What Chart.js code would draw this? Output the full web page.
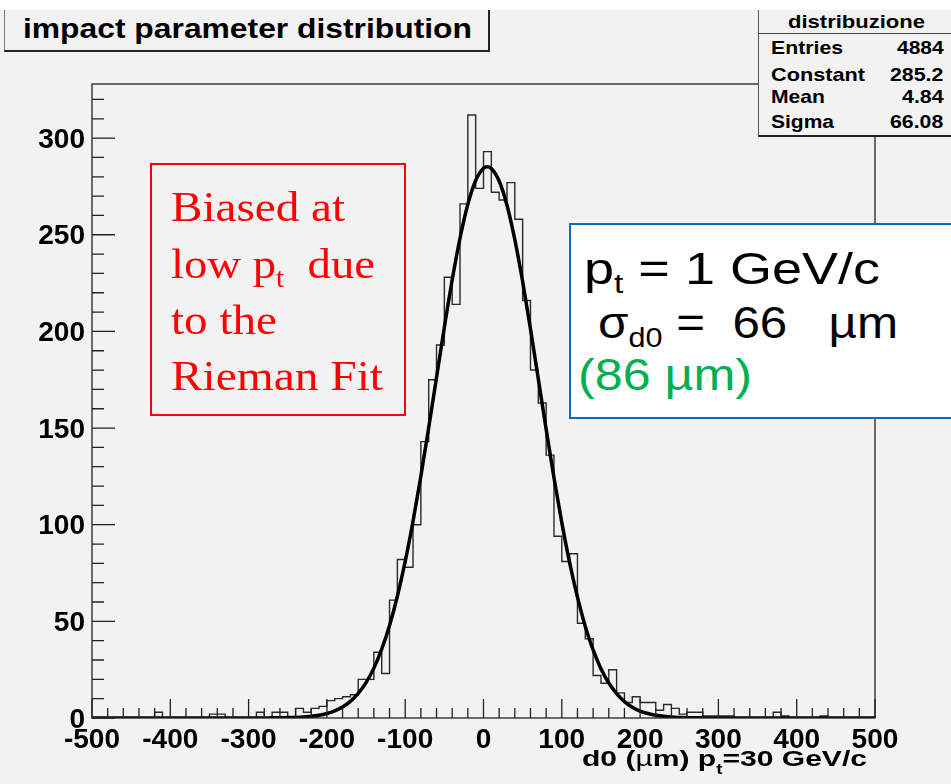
<!DOCTYPE html>
<html>
<head>
<meta charset="utf-8">
<script src="https://cdn.jsdelivr.net/npm/chart.js@4.4.1/dist/chart.umd.min.js"></script>
<style>
  html, body { margin: 0; padding: 0; background: #fff; }
  #wrap { position: relative; width: 951px; height: 784px; overflow: hidden; }
  canvas { position: absolute; left: 0; top: 0; }
  .t { position: absolute; left: 0; top: 0; white-space: pre; line-height: 1;
       font-family: "Liberation Sans", Arial, sans-serif; transform-origin: 0 0; color: #000; }
  .serif { font-family: "Liberation Serif", "Times New Roman", serif; }
  .b { font-weight: bold; }
  .sub { font-size: 0.62em; vertical-align: -0.32em; }
  .box { position: absolute; box-sizing: border-box; }
</style>
</head>
<body>
<div id="wrap">
  <canvas id="c" width="951" height="784" style="width:951px;height:784px"></canvas>

  <!-- title pave -->
  <div class="box" style="left:4px;top:10px;width:486px;height:42px;border-left:1px solid #777;border-right:2px solid #222;border-bottom:2px solid #222;background:#f2f2f2"></div>
  <div class="t b" style="font-size:27.5px" data-x="23" data-y="38" data-w="449">impact parameter distribution</div>

  <!-- stats box -->
  <div class="box" style="left:758px;top:10px;width:200px;height:127px;border-left:1px solid #555;border-bottom:2px solid #222;background:#f2f2f2"></div>
  <div class="box" style="left:758px;top:33px;width:200px;height:1px;background:#444"></div>
  <div class="t b" style="font-size:18.5px" data-x="856.7" data-a="c" data-y="28.3" data-w="137">distribuzione</div>
  <div class="t b" style="font-size:18.5px" data-x="770.7" data-y="55" data-w="72">Entries</div>
  <div class="t b" style="font-size:18.5px" data-x="770.7" data-y="81.7" data-w="94">Constant</div>
  <div class="t b" style="font-size:18.5px" data-x="770.7" data-y="104" data-w="54">Mean</div>
  <div class="t b" style="font-size:18.5px" data-x="770.7" data-y="128.3" data-w="63">Sigma</div>
  <div class="t b" style="font-size:18.5px" data-x="943.3" data-a="r" data-y="55" data-w="46.7">4884</div>
  <div class="t b" style="font-size:18.5px" data-x="943.3" data-a="r" data-y="81.7" data-w="53.3">285.2</div>
  <div class="t b" style="font-size:18.5px" data-x="943.3" data-a="r" data-y="104" data-w="41.7">4.84</div>
  <div class="t b" style="font-size:18.5px" data-x="943.3" data-a="r" data-y="128.3" data-w="53.3">66.08</div>

  <!-- red annotation -->
  <div class="box" style="left:150px;top:163px;width:256px;height:253px;border:2px solid #ff0000"></div>
  <div class="t serif" style="font-size:43px;color:#ff0000" data-x="171" data-y="221" data-w="174">Biased at</div>
  <div class="t serif" style="font-size:43px;color:#ff0000" data-x="171" data-y="278" data-w="204">low p<span class="sub">t</span>  due</div>
  <div class="t serif" style="font-size:43px;color:#ff0000" data-x="171" data-y="334" data-w="106">to the</div>
  <div class="t serif" style="font-size:43px;color:#ff0000" data-x="171" data-y="390" data-w="212">Rieman Fit</div>

  <!-- blue annotation -->
  <div class="box" style="left:569px;top:223px;width:400px;height:196px;border:2px solid #0070c0;background:#fff"></div>
  <div class="t" style="font-size:44px" data-x="584" data-y="284" data-w="296">p<span class="sub">t</span> = 1 GeV/c</div>
  <div class="t" style="font-size:44px" data-x="598" data-y="338" data-w="300">σ<span class="sub">d0</span> =  66   µm</div>
  <div class="t" style="font-size:44px;color:#00b050" data-x="578" data-y="390" data-w="174">(86 µm)</div>

  <!-- x axis title -->
  <div class="t b" style="font-size:22.5px" data-x="582" data-y="767" data-w="285">d0 (<span style="font-weight:normal">µ</span>m) p<span class="sub" style="vertical-align:-0.55em">t</span>=30 GeV/c</div>
</div>

<script>
// histogram: 100 bins of 10 µm from -500 to 500
const binLow = -500;
const binWidth = 10;
const counts = [
  0, 0, 0, 0, 0, 0, 0, 0, 3, 0,
  0, 0, 0, 0, 0, 2, 2, 0, 0, 0,
  0, 3, 0, 3, 3, 0, 5, 3, 5, 6,
  9, 10, 11, 12, 20, 20, 34, 23, 61, 82,
  78, 100, 143, 175, 193, 228, 214, 266, 312, 274,
  293, 272, 268, 277, 258, 216, 180, 163, 136, 94,
  81, 85, 49, 41, 22, 18, 25, 13, 8, 11,
  8, 8, 4, 7, 5, 2, 3, 3, 1, 1,
  1, 1, 0, 0, 0, 0, 0, 3, 1, 0,
  0, 0, 0, 1, 0, 0, 0, 0, 0, 0
];

// gaussian fit curve
const fitX = [-500, -400, -300, -290, -280, -270, -260, -250, -240, -230, -220, -210,
  -200, -190, -180, -170, -160, -150, -140, -130, -120, -110,
  -100, -90, -80, -70, -60, -50, -40, -30, -20, -10, 0, 5,
  10, 20, 30, 40, 50, 60, 70, 80, 90, 100,
  110, 120, 130, 140, 150, 160, 170, 180, 190, 200,
  210, 220, 230, 240, 250, 260, 270, 280, 290, 300, 400, 500];
const fitY = [0, 0, 0, 0, 0, 0.1, 0.1, 0.2, 0.3, 0.5, 0.9, 1.4,
  2.3, 3.7, 5.7, 8.6, 12.7, 18.3, 25.8, 35.6, 47.9, 63.0,
  81.0, 101.8, 125.1, 150.2, 176.2, 202.1, 226.6, 248.2, 265.8, 278.1, 284.4, 285.2,
  284.3, 277.8, 265.3, 247.5, 225.8, 201.3, 175.4, 149.4, 124.3, 101.1,
  80.4, 62.5, 47.4, 35.2, 25.5, 18.1, 12.6, 8.5, 5.6, 3.6,
  2.3, 1.4, 0.9, 0.5, 0.3, 0.2, 0.1, 0.1, 0, 0, 0, 0];

const xTicks = [-500, -400, -300, -200, -100, 0, 100, 200, 300, 400, 500];
const yTicks = [0, 50, 100, 150, 200, 250, 300];

const histPoints = counts.map((c, i) => ({ x: binLow + i * binWidth, y: c }));
histPoints.push({ x: binLow + counts.length * binWidth, y: counts[counts.length - 1] });
const fitPoints = fitX.map((x, i) => ({ x: x, y: fitY[i] }));

const rootFrame = {
  id: 'rootFrame',
  beforeDraw(chart) {
    const ctx = chart.ctx;
    ctx.save();
    ctx.fillStyle = '#fff';
    ctx.fillRect(0, 0, chart.width, chart.height);
    ctx.fillStyle = '#f2f2f2';
    ctx.fillRect(0, 10, chart.width, chart.height - 10);
    ctx.restore();
  },
  afterDatasetsDraw(chart) {
    const { ctx, chartArea: a, scales: { x, y } } = chart;
    ctx.save();
    ctx.strokeStyle = '#222';
    ctx.lineWidth = 1.3;
    ctx.strokeRect(a.left, a.top, a.right - a.left, a.bottom - a.top);
    ctx.beginPath();
    for (let v = -500; v <= 500; v += 20) {
      const px = x.getPixelForValue(v);
      const len = v % 100 === 0 ? 19 : 10;
      ctx.moveTo(px, a.bottom);
      ctx.lineTo(px, a.bottom - len);
    }
    for (let v = 0; v <= 320; v += 10) {
      const py = y.getPixelForValue(v);
      const len = v % 50 === 0 ? 23 : 12;
      ctx.moveTo(a.left, py);
      ctx.lineTo(a.left + len, py);
    }
    ctx.stroke();

    ctx.fillStyle = '#000';
    ctx.font = 'bold 27px "Liberation Sans", Arial, sans-serif';
    xTicks.forEach(v => {
      ctx.save();
      ctx.translate(x.getPixelForValue(v), 748);
      ctx.scale(1.04, 1);
      ctx.textAlign = 'center';
      ctx.fillText(String(v), 0, 0);
      ctx.restore();
    });
    yTicks.forEach(v => {
      ctx.save();
      ctx.translate(85, y.getPixelForValue(v) + 9.7);
      ctx.scale(1.04, 1);
      ctx.textAlign = 'right';
      ctx.fillText(String(v), 0, 0);
      ctx.restore();
    });
    ctx.restore();
  }
};

new Chart(document.getElementById('c'), {
  type: 'line',
  data: {
    datasets: [{
      label: 'fit',
      data: fitPoints,
      borderColor: '#000',
      borderWidth: 3.5,
      pointRadius: 0,
      cubicInterpolationMode: 'monotone',
      fill: false
    }, {
      label: 'distribuzione',
      data: histPoints,
      borderColor: '#2a2a2a',
      borderWidth: 1.4,
      pointRadius: 0,
      stepped: true,
      fill: false
    }]
  },
  options: {
    responsive: false,
    animation: false,
    events: [],
    layout: { padding: { left: 92, right: 76, top: 84, bottom: 66 } },
    plugins: { legend: { display: false }, tooltip: { enabled: false } },
    scales: {
      x: { type: 'linear', min: -500, max: 500, display: false },
      y: { type: 'linear', min: 0, max: 328, display: false }
    }
  },
  plugins: [rootFrame]
});

// fit each text line to the width it has in the picture
document.querySelectorAll('.t').forEach(el => {
  const F = parseFloat(el.style.fontSize);
  const k = el.classList.contains('serif') ? 0.838 : 0.846;
  const nat = el.getBoundingClientRect().width;
  const w = +el.dataset.w;
  let x = +el.dataset.x;
  if (el.dataset.a === 'r') x -= w;
  else if (el.dataset.a === 'c') x -= w / 2;
  el.style.left = x + 'px';
  el.style.top = (+el.dataset.y - k * F) + 'px';
  el.style.transform = 'scaleX(' + (w / nat) + ')';
});
</script>
</body>
</html>
